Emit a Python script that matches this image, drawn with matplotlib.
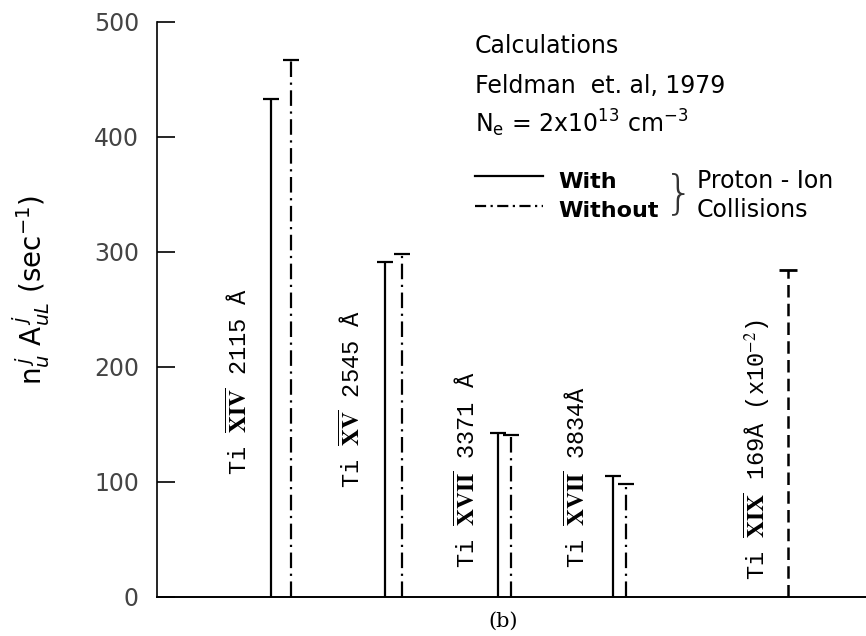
import numpy as np
import matplotlib
matplotlib.use("Agg")
import matplotlib.pyplot as plt
from matplotlib.lines import Line2D

# line positions along the (unitless) x axis, one group per transition
group_x = [17.5, 33.4, 49.0, 65.2, 89.0]
line_labels = [r"Ti $\overline{\mathbf{XIV}}$ 2115 Å",
               r"Ti $\overline{\mathbf{XV}}$ 2545 Å",
               r"Ti $\overline{\mathbf{XVII}}$ 3371 Å",
               r"Ti $\overline{\mathbf{XVII}}$ 3834Å",
               r"Ti $\overline{\mathbf{XIX}}$ 169Å (x10$^{-2}$)"]
with_pc = [433, 291, 143, 105]          # solid, with proton-ion collisions
without_pc = [467, 298, 141, 98]        # dash-dot, without
xix_value = 284                          # Ti XIX 169 A (x1e-2), dashed
label_x = [11.6, 27.5, 43.7, 59.2, 84.6]
label_y = [106, 95, 25, 25, 15]
yticks = [0, 100, 200, 300, 400, 500]

fig = plt.figure(figsize=(8.66, 6.36), dpi=100)
ax = fig.add_axes([157/866, 1 - 597/636, 709/866, (597 - 22)/636])
ax.set_xlim(0, 100)
ax.set_ylim(0, 500)

off = [1.45, 1.2, 0.9, 0.9]
for i in range(4):
    xs = group_x[i] - off[i]
    xd = group_x[i] + off[i]
    ax.plot([xs, xs], [0, with_pc[i]], color="black", lw=1.6, solid_capstyle="butt")
    ax.plot([xs], [with_pc[i]], marker="_", ms=11, mew=1.6, color="black")
    ax.plot([xd, xd], [0, without_pc[i]], color="black", lw=1.6,
            dashes=(7, 2.5, 1, 2.5))
    ax.plot([xd], [without_pc[i]], marker="_", ms=11, mew=1.6, color="black")

ax.plot([group_x[4], group_x[4]], [0, xix_value], color="black", lw=1.8,
        dashes=(5, 2.5))
ax.plot([group_x[4]], [xix_value], marker="_", ms=13, mew=2, color="black")

for lx, ly, txt in zip(label_x, label_y, line_labels):
    ax.text(lx, ly, txt, rotation=90, ha="center", va="bottom",
            fontsize=17, family="Liberation Mono", math_fontfamily="stix")

for s in ["top", "right"]:
    ax.spines[s].set_visible(False)
ax.spines["left"].set_linewidth(1.2)
ax.spines["bottom"].set_linewidth(1.4)
ax.set_xticks([])
ax.set_yticks(yticks)
ax.tick_params(axis="y", direction="in", length=13, width=1.2, pad=13,
               labelsize=17, labelcolor="#444444")

fig.text(31/866, 1 - 290/636, r"$\mathrm{n}_u^{\,j}\ \mathrm{A}_{uL}^{\,j}\ (\mathrm{sec}^{-1})$",
         rotation=90, ha="center", va="center", fontsize=20)

fs = 17
fig.text(475/866, 1 - 53/636, "Calculations", fontsize=fs, va="baseline")
fig.text(475/866, 1 - 93/636, "Feldman  et. al, 1979", fontsize=fs, va="baseline")
fig.text(475/866, 1 - 132/636, r"N$_\mathrm{e}$ = 2x10$^{13}$ cm$^{-3}$",
         fontsize=fs, va="baseline")
fig.add_artist(Line2D([475/866, 543/866], [1 - 176/636, 1 - 176/636],
                      color="black", lw=1.6, transform=fig.transFigure))
fig.add_artist(Line2D([475/866, 543/866], [1 - 206/636, 1 - 206/636],
                      color="black", lw=1.6, dashes=(5, 2, 1, 2),
                      transform=fig.transFigure))
fig.text(558/866, 1 - 188/636, "With", fontsize=16, va="baseline", fontweight="semibold")
fig.text(558/866, 1 - 217/636, "Without", fontsize=16, va="baseline", fontweight="semibold")
fig.text(679/866, 1 - 194/636, "}", fontsize=34, va="center", ha="center",
         fontweight="light", color="#333333")
fig.text(697/866, 1 - 188/636, "Proton - Ion", fontsize=fs, va="baseline")
fig.text(697/866, 1 - 217/636, "Collisions", fontsize=fs, va="baseline")

fig.text(503/866, 1 - 621/636, "(b)", fontsize=15, ha="center", va="center",
         family="DejaVu Serif")

fig.savefig("out.png", dpi=100)
